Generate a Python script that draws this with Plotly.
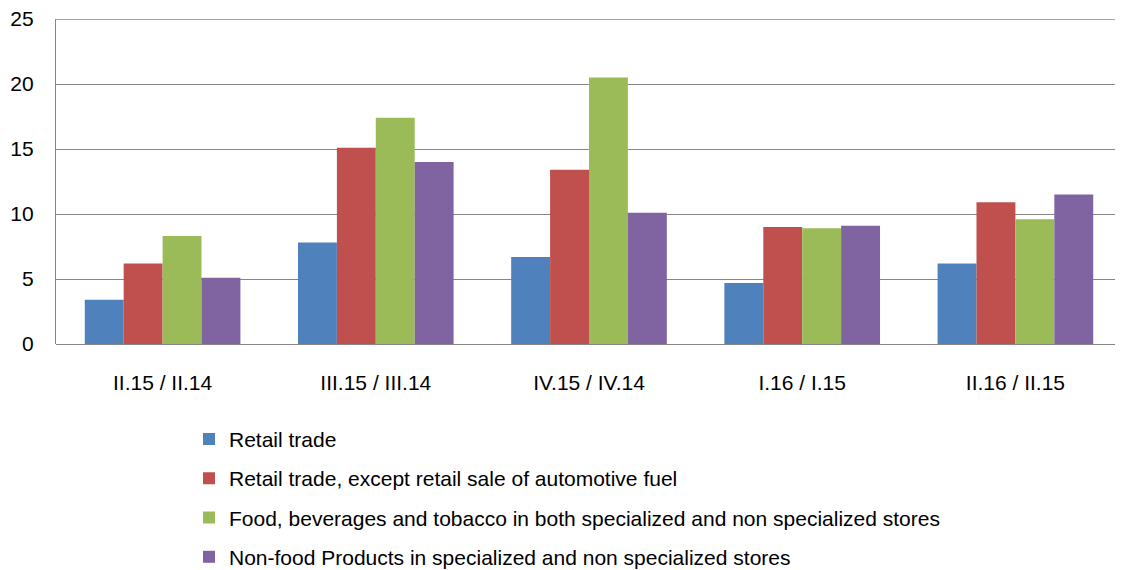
import plotly.graph_objects as go

categories = ["II.15 / II.14", "III.15 / III.14", "IV.15 / IV.14", "I.16 / I.15", "II.16 / II.15"]
series_names = [
    "Retail trade",
    "Retail trade, except retail sale of automotive fuel",
    "Food, beverages and tobacco in both specialized and non specialized stores",
    "Non-food Products in specialized and non specialized stores",
]
retail = [3.4, 7.8, 6.7, 4.7, 6.2]
retail_ex_fuel = [6.2, 15.1, 13.4, 9.0, 10.9]
food = [8.3, 17.4, 20.5, 8.9, 9.6]
nonfood = [5.1, 14.0, 10.1, 9.1, 11.5]
colors = ["#4F81BD", "#C0504D", "#9BBB59", "#8064A2"]
y_ticks = [0, 5, 10, 15, 20, 25]

fig = go.Figure()
for name, vals, col in zip(series_names, [retail, retail_ex_fuel, food, nonfood], colors):
    fig.add_trace(go.Bar(x=categories, y=vals, name=name, marker_color=col,
                         marker_line_width=0, legendgroup=name))

grid = "#868686"
W, H = 1115, 562
ML, MR, MT, MB = 48, 1, 11, 226
fig.update_layout(
    width=W, height=H,
    margin=dict(l=ML, r=MR, t=MT, b=MB, autoexpand=False),
    plot_bgcolor="white", paper_bgcolor="white",
    barmode="group", bargap=0.27, bargroupgap=0,
    font=dict(family="Liberation Sans, Arial", size=21, color="#000"),
    showlegend=True,
    legend=dict(orientation="v", x=(181 - ML) / (W - ML - MR), xanchor="left",
                y=-0.23, yanchor="top", tracegroupgap=9,
                font=dict(size=21), itemwidth=30),
    xaxis=dict(showline=False, ticks="outside", ticklen=20, tickcolor="white",
               tickfont=dict(size=21), automargin=False),
    yaxis=dict(range=[0, 25], tickvals=y_ticks, showgrid=True, gridcolor=grid,
               gridwidth=1.3, showline=True, linecolor=grid, linewidth=1.3,
               ticks="outside", ticklen=17, tickcolor="white", tickfont=dict(size=21),
               ticklabeloverflow="allow",
               zeroline=True, zerolinecolor=grid, zerolinewidth=1.3, automargin=False),
)
fig.add_shape(type="line", xref="paper", yref="y", x0=0, x1=1,
              y0=y_ticks[-1], y1=y_ticks[-1], line=dict(color=grid, width=1.3), layer="below")
fig.write_html("out.html")
